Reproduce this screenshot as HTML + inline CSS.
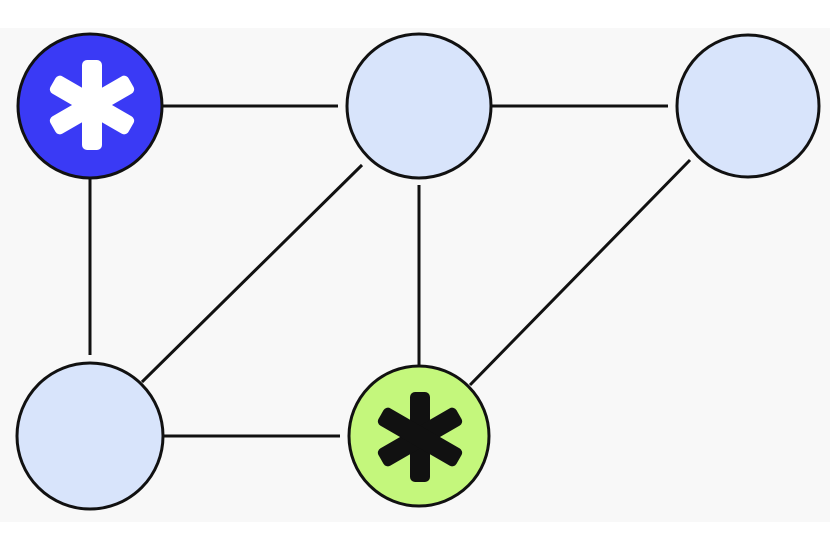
<!DOCTYPE html>
<html><head><style>html,body{margin:0;padding:0;background:#fff}</style></head><body>
<svg width="830" height="553" xmlns="http://www.w3.org/2000/svg">
<rect x="0" y="28" width="830" height="494" fill="#f8f8f8"/>
<g stroke="#111" stroke-width="3" fill="none">
<line x1="163" y1="106" x2="338" y2="106"/>
<line x1="490" y1="106" x2="668" y2="106"/>
<line x1="90" y1="178" x2="90" y2="355"/>
<line x1="142" y1="382" x2="362" y2="165"/>
<line x1="419" y1="185" x2="419" y2="366"/>
<line x1="470" y1="385" x2="690" y2="160"/>
<line x1="163" y1="436" x2="340" y2="436"/>
</g>
<g stroke="#111" stroke-width="3">
<circle cx="90" cy="106" r="72" fill="#3a3af5"/>
<circle cx="419" cy="106" r="72" fill="#d8e4fb"/>
<circle cx="748" cy="106" r="71" fill="#d8e4fb"/>
<circle cx="90" cy="436" r="73" fill="#d8e4fb"/>
<circle cx="419" cy="436" r="70" fill="#c4f77c"/>
</g>
<g fill="#fff" transform="translate(92,105)">
<rect x="-10" y="-45" width="20" height="90" rx="5"/>
<rect x="-10" y="-45" width="20" height="90" rx="5" transform="rotate(60)"/>
<rect x="-10" y="-45" width="20" height="90" rx="5" transform="rotate(120)"/>
</g>
<g fill="#111" transform="translate(420,437)">
<rect x="-10" y="-45" width="20" height="90" rx="5"/>
<rect x="-10" y="-45" width="20" height="90" rx="5" transform="rotate(60)"/>
<rect x="-10" y="-45" width="20" height="90" rx="5" transform="rotate(120)"/>
</g>
</svg>
</body></html>
